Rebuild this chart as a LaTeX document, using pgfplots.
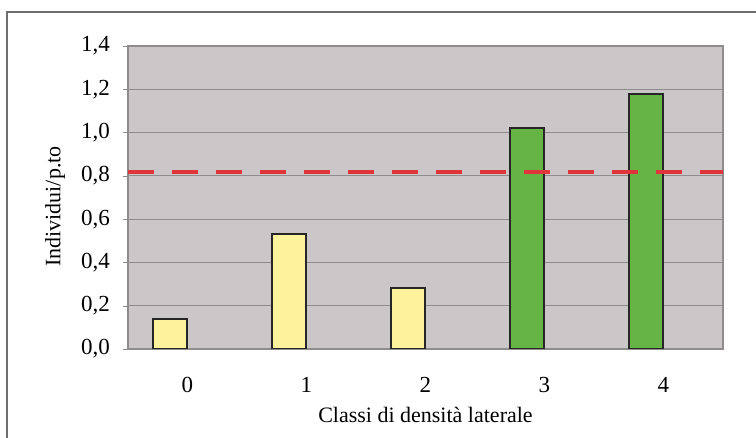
\documentclass[border=0pt]{standalone}
\usepackage{pgfplots}
\pgfplotsset{compat=1.18}
\usepackage{fontspec}
\setmainfont{Liberation Serif}

\definecolor{plotbg}{HTML}{CBC7C9}
\definecolor{baryellow}{HTML}{FCF39C}
\definecolor{bargreen}{HTML}{66B446}
\definecolor{refred}{HTML}{E0353A}
\definecolor{gridgray}{HTML}{8E8C8D}
\definecolor{framegray}{HTML}{6E6E6E}

\begin{document}
\begin{tikzpicture}
  % page size of the reference (1px = 0.5pt)
  \useasboundingbox (-64pt,-44.5pt) rectangle (314pt,174.5pt);

  \begin{axis}[%
    scale only axis,
    width=297.5pt,
    height=151.5pt,
    font=\fontsize{11}{13}\selectfont,
    /pgf/number format/assume math mode=true,
    axis background/.style={fill=plotbg},
    axis line style={gridgray, line width=0.6pt},
    % x-axis
    xmin=-0.5, xmax=4.5,
    xtick={0,1,2,3,4},
    xticklabels={0,1,2,3,4},
    major x tick style={draw=none},
    xticklabel style={yshift=-8pt, font=\fontsize{11.5}{13}\selectfont},
    xlabel={Classi di densità laterale},
    xlabel style={at={(axis description cs:0.5,0)}, anchor=center, yshift=-33pt},
    % y-axis
    ymin=0, ymax=1.4,
    ytick={0,0.2,...,1.4},
    ytick pos=left,
    tick align=outside,
    major tick length=2.5pt,
    major y tick style={gridgray},
    yticklabel style={/pgf/number format/.cd, use comma, fixed, fixed zerofill, precision=1, /tikz/.cd, xshift=-3pt, font=\fontsize{11.5}{13}\selectfont},
    ylabel={Individui/p.to},
    ylabel style={at={(axis description cs:-0.1227,0.47)}, anchor=center},
    ymajorgrids=true,
    grid style={gridgray, line width=0.5pt},
    ybar, bar width=17pt,
    ]

    % classes with low density (bars sit left of the category centre)
    \addplot[bar shift=-8.5pt, fill=baryellow, draw=black!85, line width=1pt] coordinates {
      (0, 0.14)
      (1, 0.53)
      (2, 0.28)
    };

    % classes with high density
    \addplot[bar shift=-8.5pt, fill=bargreen, draw=black!85, line width=1pt] coordinates {
      (3, 1.02)
      (4, 1.18)
    };

    % mean value
    \addplot[sharp plot, refred, line width=2pt, dash pattern=on 13pt off 9pt] coordinates {
      (-0.5, 0.82)
      (4.5,  0.82)
    };
  \end{axis}

  % outer frame of the chart, cut by the page at right and bottom
  \draw[framegray, line width=0.8pt] (-60.5pt,-60pt) -- (-60.5pt,168.5pt) -- (330pt,168.5pt);
\end{tikzpicture}
\end{document}
